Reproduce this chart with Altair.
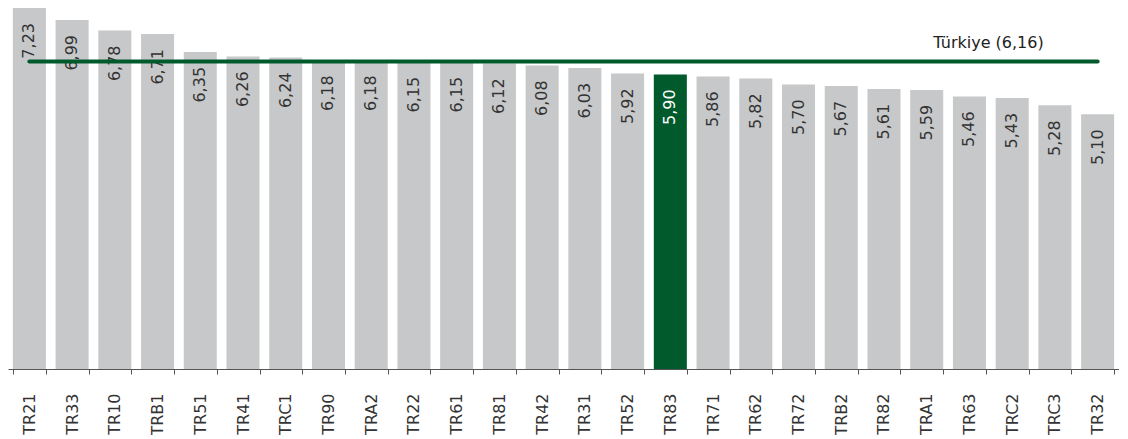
import altair as alt
import pandas as pd

regions = ["TR21", "TR33", "TR10", "TRB1", "TR51", "TR41", "TRC1", "TR90", "TRA2",
           "TR22", "TR61", "TR81", "TR42", "TR31", "TR52", "TR83", "TR71", "TR62",
           "TR72", "TRB2", "TR82", "TRA1", "TR63", "TRC2", "TRC3", "TR32"]
values = [7.23, 6.99, 6.78, 6.71, 6.35, 6.26, 6.24, 6.18, 6.18, 6.15, 6.15, 6.12,
          6.08, 6.03, 5.92, 5.90, 5.86, 5.82, 5.70, 5.67, 5.61, 5.59, 5.46, 5.43,
          5.28, 5.10]
highlight = "TR83"
turkiye_value = 6.16
turkiye_label = "Türkiye (6,16)"

GRAY = "#c7c8c9"
GREEN = "#005a2b"
FONT = "DejaVu Sans"

df = pd.DataFrame({
    "region": regions,
    "value": values,
    "label": [f"{v:.2f}".replace(".", ",") for v in values],
    "hl": [r == highlight for r in regions],
})

xscale = alt.Scale(domain=regions, paddingInner=0.227, paddingOuter=0.1135)
xenc = alt.X("region:N", scale=xscale, sort=None, title=None,
             axis=alt.Axis(labelAngle=-90, labelFont=FONT, labelFontSize=16,
                           labelColor="#333333", labelPadding=19, tickSize=5,
                           tickBand="extent", domainColor="#555555", tickColor="#555555",
                           domainWidth=1, tickWidth=1, grid=False))
yscale = alt.Scale(domain=[0, 7.23], nice=False, zero=True)
yenc = alt.Y("value:Q", scale=yscale, axis=None, title=None)

bars = alt.Chart(df).mark_bar().encode(
    x=xenc, y=yenc,
    color=alt.condition(alt.datum.hl, alt.value(GREEN), alt.value(GRAY)),
)

labels = alt.Chart(df).mark_text(angle=270, align="right", baseline="middle",
                                  dx=-15, font=FONT, fontSize=16).encode(
    x=alt.X("region:N", scale=xscale, sort=None),
    y=alt.Y("value:Q", scale=yscale),
    text="label:N",
    color=alt.condition(alt.datum.hl, alt.value("white"), alt.value("#333333")),
)

line_df = pd.DataFrame({"x1": [regions[0]], "x2": [regions[-1]], "v": [turkiye_value],
                        "lbl": [turkiye_label], "xl": ["TR63"]})
rule = alt.Chart(line_df).mark_rule(color=GREEN, strokeWidth=4, strokeCap="round").encode(
    x=alt.X("x1:N", scale=xscale, sort=None), x2="x2:N",
    y=alt.Y("v:Q", scale=yscale),
)
rule_text = alt.Chart(line_df).mark_text(font=FONT, fontSize=16, color="#222222",
                                         dx=19, dy=-18, baseline="middle").encode(
    x=alt.X("xl:N", scale=xscale, sort=None),
    y=alt.Y("v:Q", scale=yscale),
    text="lbl:N",
)

chart = alt.layer(bars, labels, rule, rule_text).properties(
    width=1111, height=361,
    autosize=alt.AutoSizeParams(type="none"),
    padding={"left": 0, "top": 0, "right": 0, "bottom": 66},
    background="white",
).configure_view(stroke=None)

chart.save("out.html", embed_options={"renderer": "svg", "actions": False})
